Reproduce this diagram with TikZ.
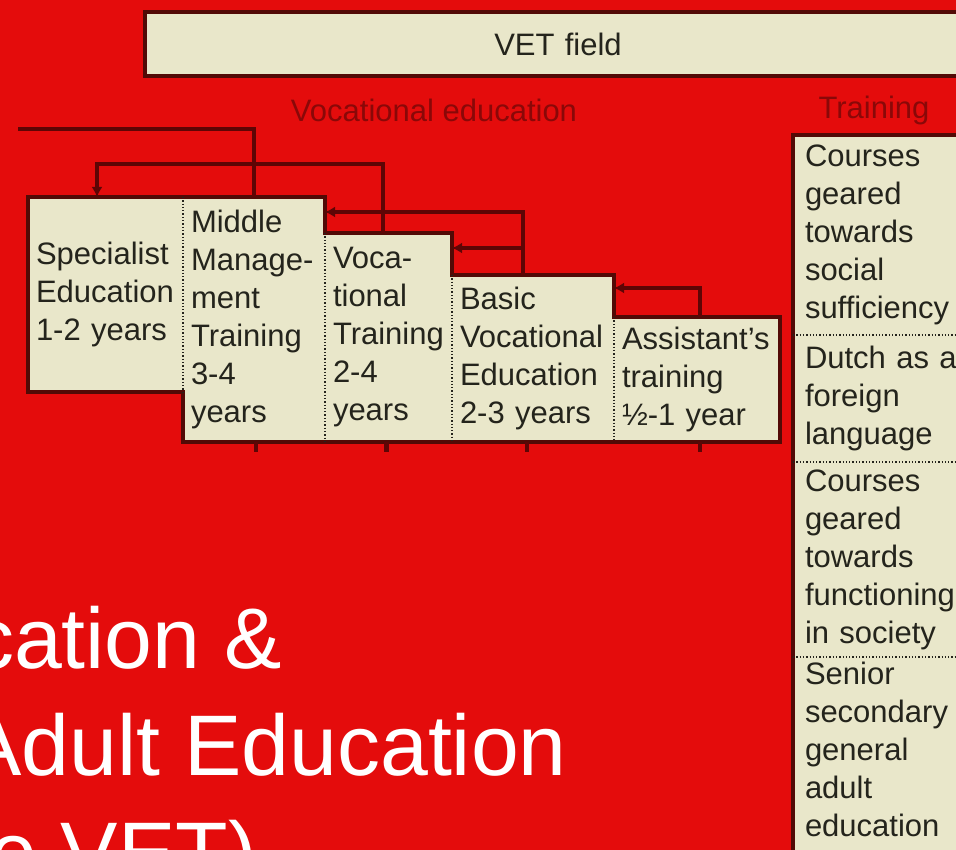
\documentclass[tikz,border=0pt]{standalone}
\usepackage{fontspec}
\setmainfont{Liberation Sans}
\usetikzlibrary{arrows.meta}

\definecolor{slidered}{HTML}{E40C0C}
\definecolor{cream}{HTML}{E9E7CA}
\definecolor{boxline}{HTML}{520A06}
\definecolor{wirecol}{HTML}{5E0505}
\definecolor{inkgrey}{HTML}{24241C}
\definecolor{headred}{HTML}{8A0808}

\tikzset{
  col/.style={rectangle, fill=cream, inner xsep=8pt, inner ysep=0pt,
              outer sep=0pt, align=left, text=inkgrey,
              font=\fontsize{31}{38}\selectfont},
  stairline/.style={draw=boxline, line width=3.2pt, line join=miter},
  divider/.style={draw=inkgrey, line width=1.3pt, dotted},
  wire/.style={draw=wirecol, line width=3.4pt},
  sublabel/.style={text=headred, inner sep=0pt,
                   font=\fontsize{31}{38}\selectfont},
  bigtext/.style={text=white, inner sep=0pt, anchor=base east,
                  font=\fontsize{86}{107}\selectfont},
}

\begin{document}
\begin{tikzpicture}[x=1pt,y=-1pt,>={Latex[length=10pt,width=11pt]}]
\useasboundingbox (0,0) rectangle (956,850);
\clip (0,0) rectangle (956,850);
\fill[slidered] (0,0) rectangle (956,850);

% header
\node[col, draw=boxline, line width=3.5pt,
      minimum width=826,
      minimum height=64,
      text width=810, align=center] (vet) at (558,44) {VET field};

\node[sublabel] (vocl) at (434,110) {Vocational education};
\node[sublabel] (trainl) at (874,110) {Training};

% vocational education columns
\node[col, minimum width=155, minimum height=195,
      text width=139] (spec) at (105.5,294.5) {Specialist\\Education\\1-2 years};
\node[col, minimum width=142, minimum height=245,
      text width=126] (mid) at (254,319.5) {Middle\\Manage-\\ment\\Training\\3-4\\years};
\node[col, minimum width=127, minimum height=209,
      text width=111] (voc) at (388.5,337.5) {Voca-\\tional\\Training\\2-4\\years};
\node[col, minimum width=162, minimum height=167,
      text width=146] (basic) at (533,358.5) {Basic\\Vocational\\Education\\2-3 years};
\node[col, minimum width=166, minimum height=125,
      text width=150] (assist) at (697,379.5) {Assistant's\\training\\½-1 year};

\draw[stairline] (spec.south west) -- (spec.north west) -- (mid.north east)
  -- (voc.north west) -- (voc.north east) -- (basic.north west)
  -- (basic.north east) -- (assist.north west) -- (assist.north east)
  -- (assist.south east) -- (mid.south west) -- (spec.south east) -- cycle;

\draw[divider] (spec.north east) -- (spec.south east);
\draw[divider] (voc.north west) -- (voc.south west);
\draw[divider] (basic.north west) -- (basic.south west);
\draw[divider] (assist.north west) -- (assist.south west);

% connectors
\coordinate (feed) at (18,129);
\draw[wire] (feed) -| (mid.north);
\draw[wire,->] ([xshift=-5.5pt]voc.north) -- ++(0,-69) -| ([xshift=-8.5pt]spec.north);
\draw[wire,->] ([xshift=-10pt]basic.north) |- ([yshift=107.5pt]mid.east);
\draw[wire,->] ([xshift=-10pt]basic.north) |- ([yshift=89.5pt]voc.east);
\draw[wire,->] ([xshift=3pt]assist.north) |- ([yshift=70.5pt]basic.east);
\foreach \n/\dx in {mid/2, voc/-2, basic/-6, assist/3}
  \draw[wire, line width=4.5pt] ([xshift=\dx pt]\n.south) -- ++(0,10);

% training column
\filldraw[stairline, fill=cream] (1000,135) -- (793,135) -- (793,870) -- (1000,870);
\node[col, fill=none, anchor=north west, inner xsep=12pt,
      minimum width=207, minimum height=200,
      text width=183] (t1) at (793,135) {Courses\\geared\\towards\\social\\sufficiency};
\node[col, fill=none, anchor=north west, inner xsep=12pt,
      minimum width=207, minimum height=127,
      text width=183] (t2) at (t1.south west) {Dutch as a\\foreign\\language};
\node[col, fill=none, anchor=north west, inner xsep=12pt,
      minimum width=207, minimum height=195,
      text width=183] (t3) at (t2.south west) {Courses\\geared\\towards\\functioning\\in society};
\node[col, fill=none, anchor=north west, inner xsep=12pt,
      minimum width=207, minimum height=185,
      text width=183] (t4) at (t3.south west) {Senior\\secondary\\general\\adult\\education};
\draw[divider] (t1.south west) -- (t1.south east);
\draw[divider] (t2.south west) -- (t2.south east);
\draw[divider] (t3.south west) -- (t3.south east);

% slide title
\node[bigtext] (line1) at (282,668) {cation \&};
\node[bigtext] (line2) at (567,775) {Adult Education};
\node[bigtext] (line3) at (257,882) {e VET)};
\end{tikzpicture}
\end{document}
